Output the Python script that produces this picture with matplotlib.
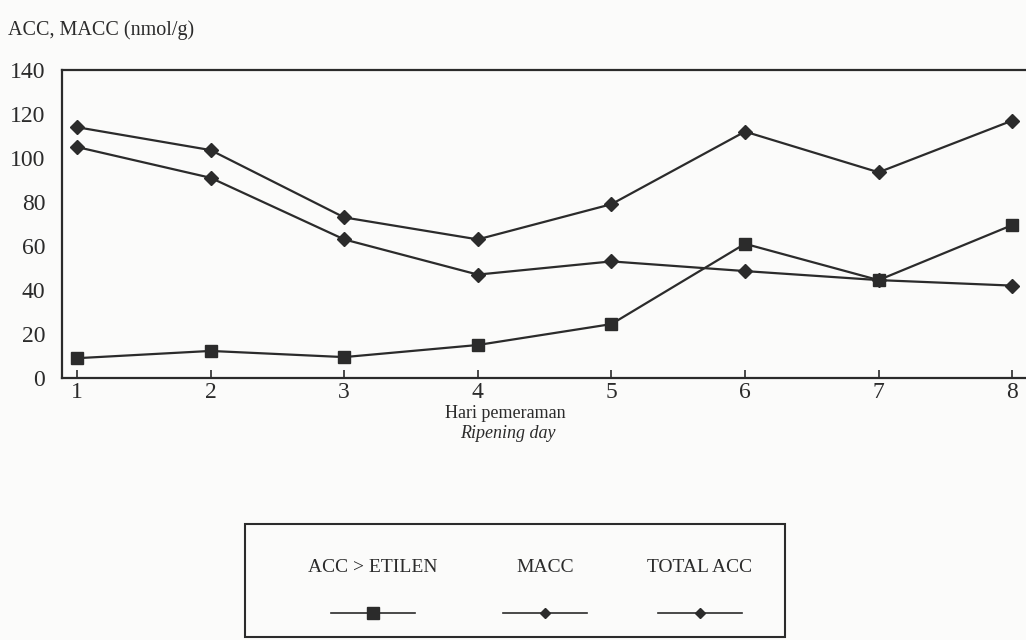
import matplotlib.pyplot as plt
from matplotlib.lines import Line2D
from matplotlib.patches import Rectangle

plt.rcParams['font.family'] = ['Liberation Serif', 'DejaVu Serif']

days = [1, 2, 3, 4, 5, 6, 7, 8]
acc_etilen = [9, 12.3, 9.5, 15, 24.5, 61, 44.5, 69.5]
macc = [105, 91, 63, 47, 53, 48.6, 44.5, 42]
total_acc = [114, 103.6, 73, 63, 79, 112, 93.5, 117]
y_ticks = [0, 20, 40, 60, 80, 100, 120, 140]

ink = '#2b2b2b'
bg = '#fbfbfa'

fig = plt.figure(figsize=(10.26, 6.4), dpi=100, facecolor=bg)
ax = fig.add_axes([62 / 1026, 1 - 378 / 640, 1 - 62 / 1026 + 0.01, (378 - 70) / 640])
ax.set_facecolor(bg)

ax.plot(days, acc_etilen, color=ink, lw=1.6, marker='s', ms=9, label='ACC > ETILEN')
ax.plot(days, macc, color=ink, lw=1.6, marker='D', ms=7, label='MACC')
ax.plot(days, total_acc, color=ink, lw=1.6, marker='D', ms=7, label='TOTAL ACC')

ax.set_xlim(0.888, 8.18)
ax.set_ylim(0, 140)
ax.set_yticks(y_ticks)
ax.set_xticks(days)
ax.tick_params(axis='y', length=0, pad=12, labelsize=17, colors=ink)
ax.tick_params(axis='x', direction='in', length=6, width=1.2, pad=3, labelsize=17, colors=ink)
ax.spines['right'].set_visible(False)
for s in ['left', 'top', 'bottom']:
    ax.spines[s].set_linewidth(1.6)
    ax.spines[s].set_color(ink)

fig.text(8 / 1026, 1 - 30 / 640, 'ACC, MACC (nmol/g)', fontsize=14.5, color=ink, va='center', ha='left')
fig.text(505 / 1026, 1 - 413 / 640, 'Hari pemeraman', fontsize=13, color=ink, va='center', ha='center')
fig.text(508 / 1026, 1 - 433 / 640, 'Ripening day', fontsize=13, style='italic', color=ink,
         va='center', ha='center')

# legend box, labels above the line samples
lax = fig.add_axes([0, 0, 1, 1], facecolor='none')
lax.set_xlim(0, 1026)
lax.set_ylim(640, 0)
lax.axis('off')
lax.add_patch(Rectangle((245, 524), 540, 113, fill=False, ec=ink, lw=1.5))
legend_items = [('ACC > ETILEN', 's', 8, 373), ('MACC', 'D', 5.5, 545), ('TOTAL ACC', 'D', 5.5, 700)]
for name, mk, ms, cx in legend_items:
    lax.text(cx, 567, name, fontsize=14, color=ink, ha='center', va='center')
    lax.add_line(Line2D([cx - 42, cx + 42], [613, 613], color=ink, lw=1.2))
    lax.add_line(Line2D([cx], [613], color=ink, marker=mk, ms=ms, ls='none'))

fig.savefig('out.png', dpi=100, facecolor=bg)
